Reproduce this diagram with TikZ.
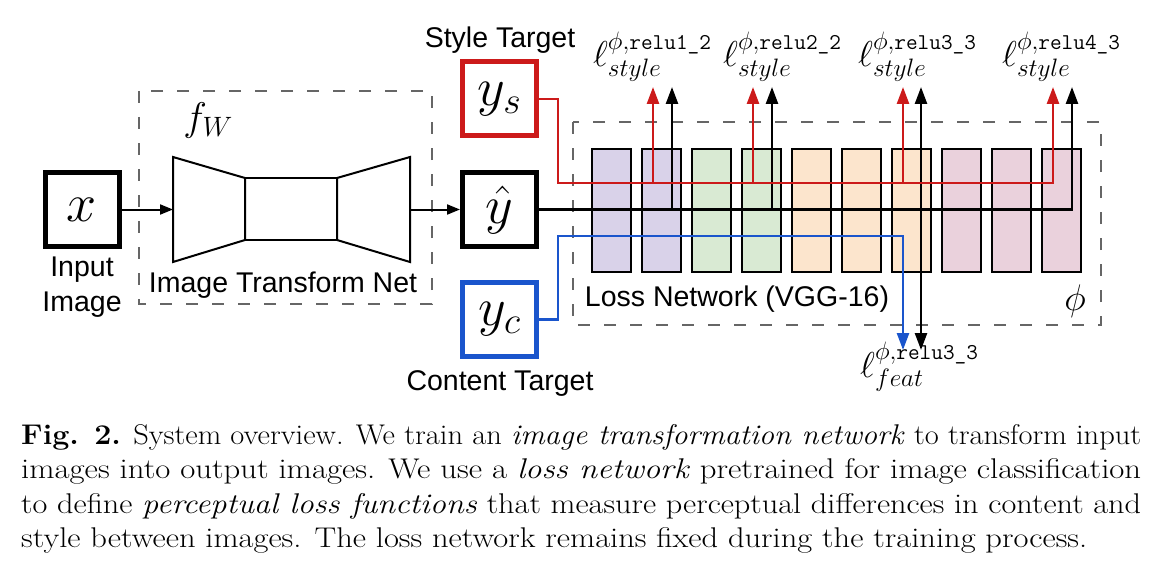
\RequirePackage{fix-cm}
\documentclass[tikz,border=0pt]{standalone}
\usepackage{fontspec}
\setsansfont{Liberation Sans}
\usepackage{amsmath}
\usepackage{graphicx}
\usepackage{xcolor}
\usepackage{tikz}
\usetikzlibrary{arrows.meta}

\definecolor{lossred}{HTML}{CC1A1A}
\definecolor{lossblue}{HTML}{1A55CC}
\definecolor{dashgray}{HTML}{666666}
\definecolor{vggpurple}{HTML}{D9D2E9}
\definecolor{vgggreen}{HTML}{D9EAD3}
\definecolor{vggorange}{HTML}{FCE5CD}
\definecolor{vggpink}{HTML}{EAD1DC}

\newcommand{\layername}[1]{\text{\ttfamily\fontsize{22.6}{22.6}\selectfont #1}}
\newcommand{\capline}[2]{\resizebox{#1}{\height}{#2}}

\tikzset{
  imgbox/.style={draw, line width=5pt, minimum width=74pt, minimum height=74pt, inner sep=0pt, font=\fontsize{54}{54}\selectfont},
  sanslabel/.style={inner sep=0pt, font=\sffamily\fontsize{28.5}{35}\selectfont, align=center},
  netbox/.style={draw=dashgray, line width=2.5pt, dash pattern=on 12pt off 14pt},
  layerbox/.style={draw, line width=2pt, minimum width=39pt, minimum height=123pt, inner sep=0pt},
  losslabel/.style={inner sep=0pt, anchor=base west, font=\fontsize{36}{36}\selectfont},
  bigtip/.style={-{Triangle[width=12pt,length=17pt]}},
  smalltip/.style={-{Triangle[width=10pt,length=13pt]}},
}

\begin{document}
\begin{tikzpicture}[x=1pt,y=1pt,yscale=-1]
    \useasboundingbox (0,0) rectangle (1172,583);

    % image transform net
    \draw[netbox] (139,91) rectangle (432,304);
    \node (fw) at (208,121) [inner sep=0pt, font=\fontsize{40}{40}\selectfont] {$f_W$};
    \draw[line width=2pt] (173,157) -- (245,178) -- (245,240) -- (173,262) -- cycle;
    \draw[line width=2pt] (245,178) rectangle (337,240);
    \draw[line width=2pt] (337,178) -- (410,157) -- (410,262) -- (337,240) -- cycle;
    \coordinate (encin) at (173,209.5);
    \coordinate (decout) at (410,209.5);
    \node (itn) at (283,292) [sanslabel, anchor=base] {Image Transform Net};

    \node (x) at (82,209.5) [imgbox] {$x$};
    \node (inlabel) at (82,257) [sanslabel, anchor=north] {Input\\Image};
    \node (yhat) at (499.5,209.5) [imgbox] {$\hat{y}$};
    \node (ys) at (499.5,99) [imgbox, draw=lossred] {$y_s$};
    \node (yc) at (499.5,319.5) [imgbox, draw=lossblue] {$y_c$};
    \node (stylet) at (500,48) [sanslabel, anchor=base] {Style Target};
    \node (contentt) at (500,390) [sanslabel, anchor=base] {Content Target};

    \draw[line width=2pt, smalltip] (x) -- (encin);
    \draw[line width=2pt, smalltip] (decout) -- (yhat);

    % loss network
    \draw[netbox] (573,122) rectangle (1101,325);
    \foreach \i/\c in {0/vggpurple,1/vggpurple,2/vgggreen,3/vgggreen,4/vggorange,5/vggorange,6/vggorange,7/vggpink,8/vggpink,9/vggpink}
        \node (l\i) at (611.5+50*\i,210.5) [layerbox, fill=\c] {};
    \node (lossname) at (737,306) [sanslabel, anchor=base] {Loss Network (VGG-16)};
    \node (phi) at (1075,301) [inner sep=0pt, font=\fontsize{37}{37}\selectfont] {$\phi$};

    % loss outputs
    \node (st1) at (593,67) [losslabel] {$\ell^{\phi,\layername{relu1\_2}}_{style}$};
    \node (st2) at (723,67) [losslabel] {$\ell^{\phi,\layername{relu2\_2}}_{style}$};
    \node (st3) at (858,67) [losslabel] {$\ell^{\phi,\layername{relu3\_3}}_{style}$};
    \node (st4) at (1002,67) [losslabel] {$\ell^{\phi,\layername{relu4\_3}}_{style}$};
    \node (ft) at (860,377) [losslabel] {$\ell^{\phi,\layername{relu3\_3}}_{feat}$};

    \coordinate (s1) at (653,87);
    \coordinate (s2) at (753,87);
    \coordinate (s3) at (903,87);
    \coordinate (s4) at (1053,87);
    \coordinate (k1) at (672,87);
    \coordinate (k2) at (772,87);
    \coordinate (k3) at (921,87);
    \coordinate (k4) at (1072,87);
    \coordinate (f1) at (903,350);
    \coordinate (f2) at (921,350);
    \coordinate (redbend) at (558,183);
    \coordinate (bluebend) at (558,236);

    % content path
    \draw[lossblue, line width=2.5pt, bigtip] (yc.east) -| (bluebend) -| (f1);
    % output path
    \draw[line width=2.5pt, bigtip] (yhat.east) -| (k4);
    \foreach \k in {k1,k2}
        \draw[line width=2.5pt, bigtip] (\k |- yhat.east) -- (\k);
    \draw[line width=2.5pt, {Triangle[width=12pt,length=17pt]}-{Triangle[width=12pt,length=17pt]}] (f2) -- (k3);
    % style path
    \draw[lossred, line width=2.5pt, bigtip] (ys.east) -| (redbend) -| (s4);
    \foreach \s in {s1,s2,s3}
        \draw[lossred, line width=2.5pt, bigtip] (\s |- redbend) -- (\s);

    % caption
    \node (caption) at (21,424) [anchor=north west, inner sep=0pt, align=left, font=\fontsize{28.5}{34.5}\selectfont]
        {\capline{1120pt}{\textbf{Fig. 2.} System overview. We train an \emph{image transformation network} to transform input}\\
         \capline{1120pt}{images into output images. We use a \emph{loss network} pretrained for image classification}\\
         \capline{1120pt}{to define \emph{perceptual loss functions} that measure perceptual differences in content and}\\
         \capline{1066pt}{style between images. The loss network remains fixed during the training process.}};
\end{tikzpicture}
\end{document}
